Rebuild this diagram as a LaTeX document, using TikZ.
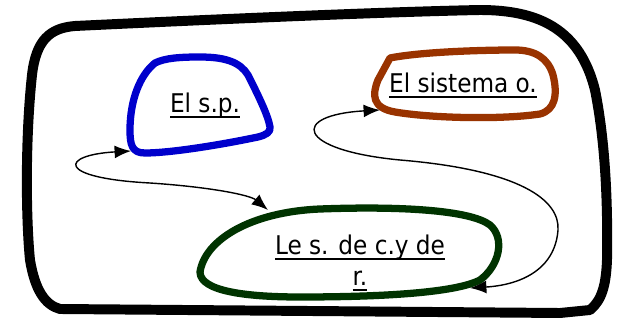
\documentclass[tikz,border=0pt]{standalone}
\usepackage{fontspec}
\setmainfont{DejaVu Sans Condensed}
\usetikzlibrary{arrows.meta}
\newcommand{\ulbar}[1]{\setbox0\hbox{#1}\leavevmode\rlap{\rule[-4pt]{\wd0}{1.6pt}}\box0}
\begin{document}
\begin{tikzpicture}[x=0.03cm,y=-0.03cm,line join=round,line cap=round]
	\definecolor{bluesp}{rgb}{0.0, 0.0, 0.8}
	\definecolor{brownso}{rgb}{0.6, 0.2, 0.0}
	\definecolor{greenscr}{rgb}{0.0, 0.2, 0.0}
	\tikzset{
		blob/.style={line width=6.2pt},
		label/.style={font=\fontsize{22}{26.5}\selectfont,inner sep=0pt,align=center},
		link/.style={line width=1.2pt,{Latex[length=14pt,width=11pt]}-{Latex[length=14pt,width=11pt]}}
	}
	\useasboundingbox (0,0) rectangle (619,320);
	
	%%%% marco grande
	\draw[line width=8.5pt] (75,26) .. controls (200,20) and (380,12) .. (480,10)
		.. controls (540,10) and (580,30) .. (595,90)
		.. controls (605,140) and (608,200) .. (607,260)
		.. controls (606,285) and (602,300) .. (590,310) -- (560,313) -- (60,309)
		.. controls (45,305) and (35,290) .. (30,260)
		.. controls (26,220) and (25,140) .. (32,75)
		.. controls (36,40) and (50,28) .. (75,26) -- cycle;
	
	%%%% El s.p.
	\draw[blob,color=bluesp] (200,57) .. controls (225,57) and (240,62) .. (248,75)
		.. controls (258,95) and (268,115) .. (270,127)
		.. controls (271,132) and (266,135) .. (258,137)
		.. controls (220,145) and (170,153) .. (145,153)
		.. controls (132,153) and (130,145) .. (130,130)
		.. controls (130,100) and (140,75) .. (155,63)
		.. controls (165,58) and (180,57) .. (200,57) -- cycle;
	\node[label,anchor=base] (sp) at (205,113) {\ulbar{El s.p.}};
	
	%%%% El sistema o.
	\draw[blob,color=brownso] (390,58) .. controls (420,52) and (480,50) .. (515,50)
		.. controls (535,50) and (548,58) .. (553,75)
		.. controls (558,95) and (555,110) .. (540,114)
		.. controls (500,120) and (430,118) .. (395,112)
		.. controls (372,108) and (372,95) .. (378,80) -- cycle;
	\node[label,anchor=base] (so) at (463,93) {\ulbar{El sistema o.}};
	
	%%%% Le s. de c.y de r.
	\draw[blob,color=greenscr] (200,272) .. controls (205,240) and (250,212) .. (320,209)
		.. controls (400,206) and (470,210) .. (490,225)
		.. controls (505,238) and (500,265) .. (480,280)
		.. controls (455,293) and (380,297) .. (300,297)
		.. controls (250,297) and (200,292) .. (200,272) -- cycle;
	\node[label] (scr) at (360,263) {\ulbar{Le s. de c.y de}\\\ulbar{r.}};
	
	%%%% flechas
	\coordinate (spA) at (131,151);
	\coordinate (scrA) at (268,210);
	\coordinate (soA) at (380,110);
	\coordinate (scrB) at (470,288);
	\draw[link] (spA) .. controls (60,155) and (55,178) .. (150,183)
		.. controls (210,187) and (250,195) .. (scrA);
	\draw[link] (scrB) .. controls (520,285) and (555,270) .. (558,230)
		.. controls (560,200) and (520,170) .. (400,160)
		.. controls (295,150) and (290,115) .. (soA);
\end{tikzpicture}
\end{document}
